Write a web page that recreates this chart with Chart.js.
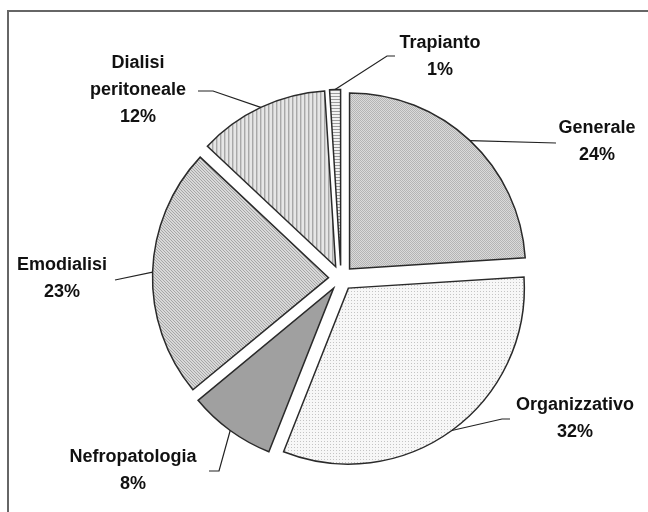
<!DOCTYPE html>
<html>
<head>
<meta charset="utf-8">
<title>Distribuzione per area</title>
<script src="https://cdn.jsdelivr.net/npm/chart.js@4.4.1/dist/chart.umd.min.js"></script>
<style>
    html, body { margin: 0; padding: 0; background: #fff; }
    #wrap { width: 648px; height: 512px; }
</style>
</head>
<body>
<div id="wrap"><canvas id="pieChart" width="648" height="512"></canvas></div>
<script>
// Data
const categories = ['Generale', 'Organizzativo', 'Nefropatologia', 'Emodialisi', ['Dialisi', 'peritoneale'], 'Trapianto'];
const shares = [24, 32, 8, 23, 12, 1];

// Label placement: text centre (first line) and leader knee / end point
const labelLayout = [
    { x: 597, y: 128, end: [556, 143] },
    { x: 575, y: 405, knee: [502, 419], end: [510, 419] },
    { x: 133, y: 457, knee: [219, 471], end: [209, 471] },
    { x: 62,  y: 265, end: [115, 280] },
    { x: 138, y: 63,  knee: [213, 91], end: [198, 91] },
    { x: 440, y: 43,  knee: [387, 56], end: [395, 56] }
];

const EXPLODE = 12.5;
const LINE_H = 27;
const FONT = 'bold 18px "Liberation Sans", Arial, sans-serif';

// Small repeating tiles to mimic the grey fill patterns
function makePattern(w, h, painter) {
    const tile = document.createElement('canvas');
    tile.width = w;
    tile.height = h;
    const t = tile.getContext('2d');
    for (let y = 0; y < h; y++) {
        for (let x = 0; x < w; x++) {
            t.fillStyle = painter(x, y);
            t.fillRect(x, y, 1, 1);
        }
    }
    return t.createPattern(tile, 'repeat');
}

const fills = [
    makePattern(2, 2, (x, y) => (x + y) % 2 === 0 ? '#b4b4b4' : '#dadada'),          // Generale
    makePattern(3, 3, (x, y) => (x === 0 && y === 0) ? '#c4c4c4' : '#f7f7f7'),       // Organizzativo
    '#a0a0a0',                                                                     // Nefropatologia
    makePattern(3, 3, (x, y) => (x - y + 3) % 3 === 0 ? '#a6a6a6' : '#d8d8d8'),      // Emodialisi
    makePattern(4, 1, (x) => x === 0 ? '#a8a8a8' : (x === 1 ? '#cccccc' : '#e6e6e6')), // Dialisi peritoneale
    makePattern(1, 3, (x, y) => y === 0 ? '#9c9c9c' : '#f2f2f2')                    // Trapianto
];

// Outer frame (top and left edges only, as in the original crop)
const framePlugin = {
    id: 'frame',
    beforeDraw(chart) {
        const ctx = chart.ctx;
        ctx.save();
        ctx.fillStyle = '#fff';
        ctx.fillRect(0, 0, chart.width, chart.height);
        ctx.strokeStyle = '#666';
        ctx.lineWidth = 2;
        ctx.beginPath();
        ctx.moveTo(8, chart.height);
        ctx.lineTo(8, 11);
        ctx.lineTo(chart.width, 11);
        ctx.stroke();
        ctx.restore();
    }
};

// Pull every slice out along its bisector (Excel style explode)
const explodePlugin = {
    id: 'explode',
    afterDatasetsUpdate(chart) {
        chart.getDatasetMeta(0).data.forEach(arc => {
            const mid = (arc.startAngle + arc.endAngle) / 2;
            arc.x += Math.cos(mid) * EXPLODE;
            arc.y += Math.sin(mid) * EXPLODE;
        });
    }
};

// Category + percentage labels with leader lines
const labelPlugin = {
    id: 'pieLabels',
    afterDatasetsDraw(chart) {
        const ctx = chart.ctx;
        const arcs = chart.getDatasetMeta(0).data;
        ctx.save();
        ctx.strokeStyle = '#222';
        ctx.lineWidth = 1.2;
        arcs.forEach((arc, i) => {
            const pos = labelLayout[i];
            const mid = (arc.startAngle + arc.endAngle) / 2;
            const ax = arc.x + Math.cos(mid) * arc.outerRadius;
            const ay = arc.y + Math.sin(mid) * arc.outerRadius;
            ctx.beginPath();
            ctx.moveTo(ax, ay);
            if (pos.knee) ctx.lineTo(pos.knee[0], pos.knee[1]);
            ctx.lineTo(pos.end[0], pos.end[1]);
            ctx.stroke();

            const name = categories[i];
            const lines = (Array.isArray(name) ? name.slice() : [name]);
            lines.push(shares[i] + '%');
            ctx.fillStyle = '#111';
            ctx.font = FONT;
            ctx.textAlign = 'center';
            ctx.textBaseline = 'middle';
            lines.forEach((txt, k) => ctx.fillText(txt, pos.x, pos.y + k * LINE_H));
        });
        ctx.restore();
    }
};

document.addEventListener('DOMContentLoaded', function() {
    const ctx = document.getElementById('pieChart');

    new Chart(ctx, {
        type: 'pie',
        data: {
            labels: categories,
            datasets: [{
                data: shares,
                backgroundColor: fills,
                borderColor: '#2a2a2a',
                borderWidth: 1.5,
                borderJoinStyle: 'miter',
                hoverOffset: 0
            }]
        },
        options: {
            responsive: false,
            devicePixelRatio: 1,
            animation: false,
            events: [],
            radius: 176,
            rotation: 0,
            layout: {
                padding: { left: 141, right: 107, top: 78, bottom: 34 }
            },
            plugins: {
                legend: { display: false },
                tooltip: { enabled: false }
            }
        },
        plugins: [framePlugin, explodePlugin, labelPlugin]
    });
});
</script>
</body>
</html>
